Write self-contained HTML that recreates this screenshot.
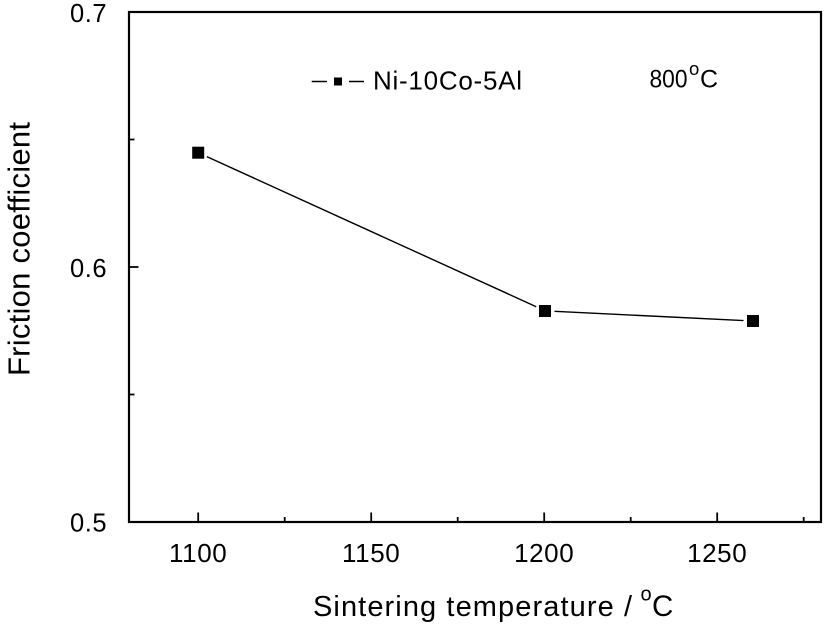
<!DOCTYPE html>
<html>
<head>
<meta charset="utf-8">
<style>
  html, body { margin: 0; padding: 0; background: #ffffff; }
  svg { display: block; }
  text { font-family: "Liberation Sans", Arial, sans-serif; fill: #000; }
</style>
</head>
<body>
<svg width="827" height="627" viewBox="0 0 827 627" xmlns="http://www.w3.org/2000/svg">
  <rect x="0" y="0" width="827" height="627" fill="#ffffff"/>

  <!-- Frame -->
  <rect x="129" y="12" width="692" height="510" fill="none" stroke="#000" stroke-width="2.2"/>

  <!-- Y ticks (inward) -->
  <line x1="129" y1="267" x2="138.5" y2="267" stroke="#000" stroke-width="1.8"/>
  <line x1="129" y1="139.5" x2="134.5" y2="139.5" stroke="#000" stroke-width="1.8"/>
  <line x1="129" y1="394.5" x2="134.5" y2="394.5" stroke="#000" stroke-width="1.8"/>

  <!-- X ticks (inward) -->
  <line x1="198.2" y1="522" x2="198.2" y2="512.5" stroke="#000" stroke-width="1.8"/>
  <line x1="371.2" y1="522" x2="371.2" y2="512.5" stroke="#000" stroke-width="1.8"/>
  <line x1="544.2" y1="522" x2="544.2" y2="512.5" stroke="#000" stroke-width="1.8"/>
  <line x1="717.2" y1="522" x2="717.2" y2="512.5" stroke="#000" stroke-width="1.8"/>
  <line x1="284.7" y1="522" x2="284.7" y2="517" stroke="#000" stroke-width="1.8"/>
  <line x1="457.7" y1="522" x2="457.7" y2="517" stroke="#000" stroke-width="1.8"/>
  <line x1="630.7" y1="522" x2="630.7" y2="517" stroke="#000" stroke-width="1.8"/>
  <line x1="803.7" y1="522" x2="803.7" y2="517" stroke="#000" stroke-width="1.8"/>

  <!-- Y tick labels -->
  <text x="107" y="22" font-size="25.5" text-anchor="end" letter-spacing="0.5">0.7</text>
  <text x="107" y="277" font-size="25.5" text-anchor="end" letter-spacing="0.5">0.6</text>
  <text x="107" y="531.5" font-size="25.5" text-anchor="end" letter-spacing="0.5">0.5</text>

  <!-- X tick labels -->
  <text x="198.2" y="562" font-size="26" text-anchor="middle" letter-spacing="0.6">1100</text>
  <text x="371.2" y="562" font-size="26" text-anchor="middle" letter-spacing="0.6">1150</text>
  <text x="544.2" y="562" font-size="26" text-anchor="middle" letter-spacing="0.6">1200</text>
  <text x="717.2" y="562" font-size="26" text-anchor="middle" letter-spacing="0.6">1250</text>

  <!-- X axis title -->
  <text x="313" y="616" font-size="29" textLength="319" lengthAdjust="spacing">Sintering temperature /</text>
  <text x="640.5" y="600.5" font-size="20">o</text>
  <text x="652" y="616" font-size="29.5">C</text>

  <!-- Y axis title -->
  <text transform="translate(29.5,376) rotate(-90)" x="0" y="0" font-size="31" textLength="254" lengthAdjust="spacing">Friction coefficient</text>

  <!-- Legend -->
  <line x1="311.7" y1="81.5" x2="327" y2="81.5" stroke="#000" stroke-width="1.5"/>
  <rect x="334" y="77.5" width="8" height="8" fill="#000"/>
  <line x1="349" y1="81.5" x2="364" y2="81.5" stroke="#000" stroke-width="1.5"/>
  <text x="373" y="89.3" font-size="26" textLength="149" lengthAdjust="spacing">Ni-10Co-5Al</text>

  <!-- 800°C annotation -->
  <text x="649.5" y="87.5" font-size="25" textLength="38" lengthAdjust="spacingAndGlyphs">800</text>
  <text x="689" y="75" font-size="18.5">o</text>
  <text x="700" y="87.5" font-size="25">C</text>

  <!-- Data line segments (with gaps at markers) -->
  <line x1="206.8" y1="156.6" x2="536.2" y2="306.7" stroke="#000" stroke-width="1.4"/>
  <line x1="554.5" y1="311.3" x2="743.5" y2="320.6" stroke="#000" stroke-width="1.4"/>

  <!-- Markers -->
  <rect x="192.2" y="146.7" width="12" height="12" fill="#000"/>
  <rect x="539" y="305" width="12" height="12" fill="#000"/>
  <rect x="747" y="315" width="12" height="12" fill="#000"/>
</svg>
</body>
</html>
